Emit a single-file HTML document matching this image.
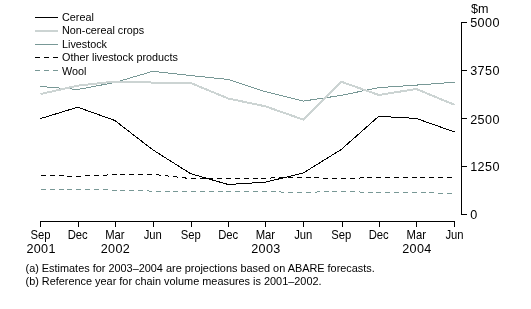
<!DOCTYPE html>
<html><head><meta charset="utf-8"><style>
html,body{margin:0;padding:0;background:#fff;width:531px;height:309px;overflow:hidden}
svg{display:block;will-change:transform}
text{font-family:"Liberation Sans", sans-serif;fill:#000}
.lg{font-size:10.8px}
.xl{font-size:12.0px}
.yr{font-size:12.6px}
.yl{font-size:12.6px}
.fn{font-size:10.9px}
</style></head><body>
<svg width="531" height="309" viewBox="0 0 531 309" shape-rendering="crispEdges">
<line x1="35" y1="17.5" x2="58" y2="17.5" stroke="#000" stroke-width="1"/>
<text x="62" y="21" class="lg">Cereal</text>
<line x1="35" y1="31.0" x2="58" y2="31.0" stroke="#ccd4d3" stroke-width="2"/>
<text x="62" y="34" class="lg">Non-cereal crops</text>
<line x1="35" y1="44.5" x2="58" y2="44.5" stroke="#789896" stroke-width="1"/>
<text x="62" y="48" class="lg">Livestock</text>
<line x1="35" y1="57.5" x2="58" y2="57.5" stroke="#000" stroke-width="1" stroke-dasharray="5 4"/>
<text x="62" y="61" class="lg">Other livestock products</text>
<line x1="35" y1="70.5" x2="58" y2="70.5" stroke="#789896" stroke-width="1" stroke-dasharray="5 4"/>
<text x="62" y="75" class="lg">Wool</text>
<polyline points="40.50,189.60 77.72,189.50 114.84,190.10 152.77,191.10 190.71,191.50 228.23,191.50 265.34,191.80 303.28,192.30 341.22,191.50 378.74,192.50 416.26,192.70 454.50,193.30" fill="none" stroke="#789896" stroke-width="1" stroke-dasharray="5 3.83" stroke-dashoffset="-0.5"/>
<polyline points="40.50,175.50 77.72,176.20 114.84,174.70 152.77,174.30 190.71,178.60 228.23,178.50 265.34,178.10 303.28,177.50 341.22,178.50 378.74,177.50 416.26,177.50 454.50,177.50" fill="none" stroke="#000" stroke-width="1" stroke-dasharray="5 3.83" stroke-dashoffset="-0.5"/>
<polyline points="40.50,86.50 77.72,89.50 114.84,82.50 152.77,71.30 190.71,75.50 228.23,79.50 265.34,91.70 303.28,101.10 341.22,95.40 378.74,87.60 416.26,85.10 454.50,82.20" fill="none" stroke="#789896" stroke-width="1"/>
<polyline points="40.50,94.00 77.72,85.67 114.84,81.56 152.77,82.55 190.71,83.00 228.23,98.50 265.34,106.30 303.28,119.60 341.22,81.70 378.74,95.00 416.26,89.00 454.50,104.80" fill="none" stroke="#ccd4d3" stroke-width="2"/>
<polyline points="40.50,118.60 77.72,107.20 114.84,120.50 152.77,149.80 190.71,173.75 228.23,184.50 265.34,182.20 303.28,173.00 341.22,149.50 378.74,116.30 416.26,118.40 454.50,132.00" fill="none" stroke="#000" stroke-width="1"/>
<path d="M40.5,227 V221.5 H454.5 V227" fill="none" stroke="#000" stroke-width="1"/>
<text transform="translate(40.50,239) scale(0.94,1)" class="xl" text-anchor="middle">Sep</text>
<text x="41.1" y="252.7" class="yr" text-anchor="middle" letter-spacing="0.3">2001</text>
<line x1="78.5" y1="221" x2="78.5" y2="227" stroke="#000" stroke-width="1"/>
<text transform="translate(77.72,239) scale(0.94,1)" class="xl" text-anchor="middle">Dec</text>
<line x1="115.5" y1="221" x2="115.5" y2="227" stroke="#000" stroke-width="1"/>
<text transform="translate(114.84,239) scale(0.94,1)" class="xl" text-anchor="middle">Mar</text>
<text x="115.4" y="252.7" class="yr" text-anchor="middle" letter-spacing="0.3">2002</text>
<line x1="153.5" y1="221" x2="153.5" y2="227" stroke="#000" stroke-width="1"/>
<text transform="translate(152.77,239) scale(0.94,1)" class="xl" text-anchor="middle">Jun</text>
<line x1="191.5" y1="221" x2="191.5" y2="227" stroke="#000" stroke-width="1"/>
<text transform="translate(190.71,239) scale(0.94,1)" class="xl" text-anchor="middle">Sep</text>
<line x1="228.5" y1="221" x2="228.5" y2="227" stroke="#000" stroke-width="1"/>
<text transform="translate(228.23,239) scale(0.94,1)" class="xl" text-anchor="middle">Dec</text>
<line x1="265.5" y1="221" x2="265.5" y2="227" stroke="#000" stroke-width="1"/>
<text transform="translate(265.34,239) scale(0.94,1)" class="xl" text-anchor="middle">Mar</text>
<text x="265.9" y="252.7" class="yr" text-anchor="middle" letter-spacing="0.3">2003</text>
<line x1="303.5" y1="221" x2="303.5" y2="227" stroke="#000" stroke-width="1"/>
<text transform="translate(303.28,239) scale(0.94,1)" class="xl" text-anchor="middle">Jun</text>
<line x1="342.5" y1="221" x2="342.5" y2="227" stroke="#000" stroke-width="1"/>
<text transform="translate(341.22,239) scale(0.94,1)" class="xl" text-anchor="middle">Sep</text>
<line x1="379.5" y1="221" x2="379.5" y2="227" stroke="#000" stroke-width="1"/>
<text transform="translate(378.74,239) scale(0.94,1)" class="xl" text-anchor="middle">Dec</text>
<line x1="416.5" y1="221" x2="416.5" y2="227" stroke="#000" stroke-width="1"/>
<text transform="translate(416.26,239) scale(0.94,1)" class="xl" text-anchor="middle">Mar</text>
<text x="416.9" y="252.7" class="yr" text-anchor="middle" letter-spacing="0.3">2004</text>
<text transform="translate(454.50,239) scale(0.94,1)" class="xl" text-anchor="middle">Jun</text>
<path d="M461.5,22 V215" fill="none" stroke="#000" stroke-width="1"/>
<line x1="461" y1="22.5" x2="467" y2="22.5" stroke="#000" stroke-width="1"/>
<text x="470.2" y="26.5" class="yl" letter-spacing="0.4">5000</text>
<line x1="461" y1="70.5" x2="467" y2="70.5" stroke="#000" stroke-width="1"/>
<text x="470.2" y="74.5" class="yl" letter-spacing="0.4">3750</text>
<line x1="461" y1="118.5" x2="467" y2="118.5" stroke="#000" stroke-width="1"/>
<text x="470.2" y="123.5" class="yl" letter-spacing="0.4">2500</text>
<line x1="461" y1="166.5" x2="467" y2="166.5" stroke="#000" stroke-width="1"/>
<text x="470.2" y="170.5" class="yl" letter-spacing="0.4">1250</text>
<line x1="461" y1="214.5" x2="467" y2="214.5" stroke="#000" stroke-width="1"/>
<text x="470.2" y="218.5" class="yl" letter-spacing="0.4">0</text>
<text x="471" y="13" class="yl">$m</text>
<text x="25.5" y="271.6" class="fn">(a) Estimates for 2003–2004 are projections based on ABARE forecasts.</text>
<text x="25.5" y="285" class="fn">(b) Reference year for chain volume measures is 2001–2002.</text>
</svg></body></html>
